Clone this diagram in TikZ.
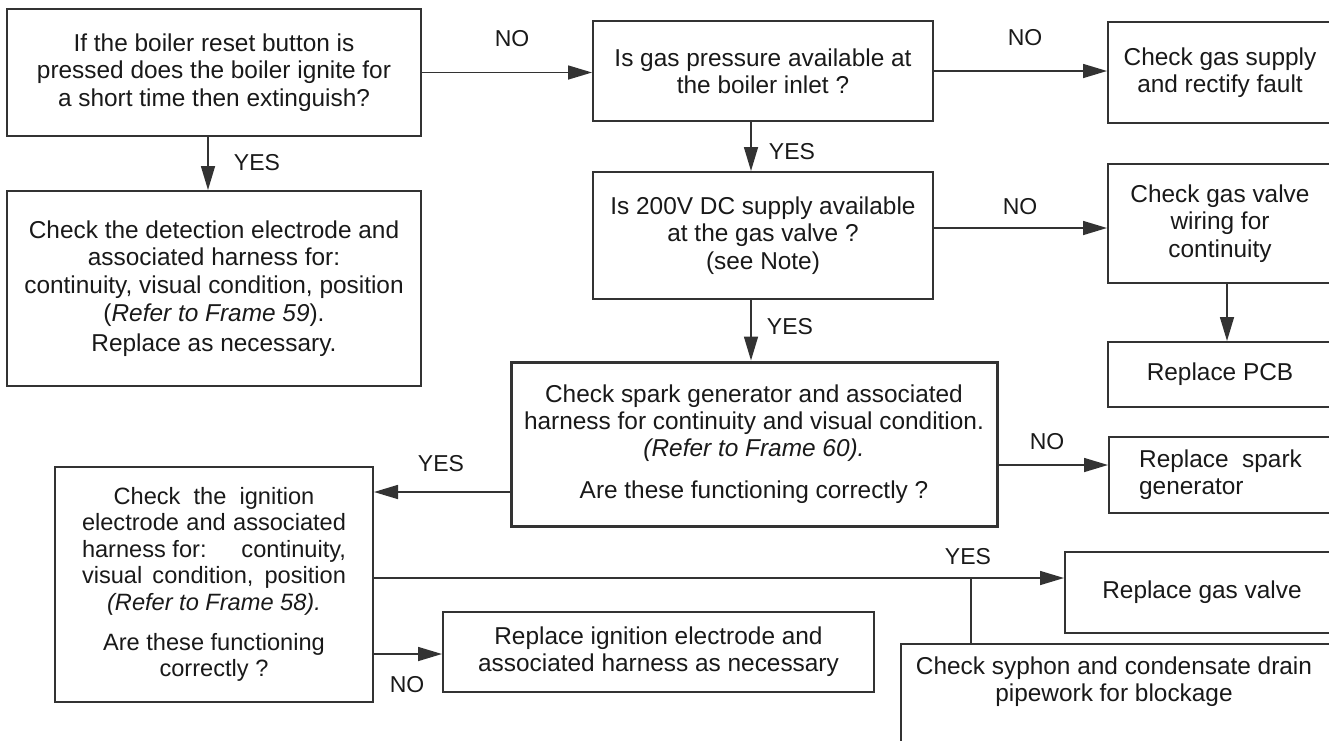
\documentclass[tikz,border=0pt]{standalone}
\usepackage{fontspec}
\setmainfont{Liberation Sans}
\usetikzlibrary{arrows.meta}

\begin{document}
\begin{tikzpicture}[x=0.5pt,y=-0.5pt,
    box/.style={draw=black!80, line width=1pt, align=center, inner sep=3pt,
      text=black!90, font=\fontsize{12.2}{13.6}\selectfont},
    wire/.style={draw=black!80, line width=0.8pt},
    arr/.style={wire, -{Triangle[length=12pt,width=7pt]}},
    lbl/.style={text=black!90, font=\fontsize{11.5}{13}\selectfont}]
  \useasboundingbox (0,0) rectangle (1329,740);
  \clip (0,0) rectangle (1329,740);

  % Left column
  \node[box, minimum width=207pt, minimum height=63.5pt] (reset) at (214,72.5)
    {If the boiler reset button is\\pressed does the boiler ignite for\\a short time then extinguish?};
  \node[box, minimum width=207pt, minimum height=97.5pt] (detect) at (214,288.5)
    {Check the detection electrode and\\associated harness for:\\[0.5pt]continuity, visual condition, position\\(\textit{Refer to Frame 59}).\\[1.5pt]Replace as necessary.};

  % Middle column
  \node[box, minimum width=170pt, minimum height=50pt] (gasp) at (763,71)
    {Is gas pressure available at\\the boiler inlet ?};
  \node[box, minimum width=170pt, minimum height=63.5pt] (dc) at (763,235.5)
    {Is 200V DC supply available\\at the gas valve ?\\(see Note)};
  \node[box, line width=1.5pt, minimum width=243pt, minimum height=82pt] (spark) at (754,444)
    {Check spark generator and associated\\harness for continuity and visual condition.\\\textit{(Refer to Frame 60).}\\[7pt]Are these functioning correctly ?};

  % Right column
  \node[box, minimum width=112pt, minimum height=50.5pt] (supply) at (1220,72.5)
    {Check gas supply\\and rectify fault};
  \node[box, minimum width=112pt, minimum height=59.5pt] (wiring) at (1220,223.5)
    {Check gas valve\\wiring for\\continuity};
  \node[box, minimum width=112pt, minimum height=32.5pt] (pcb) at (1220,374.5) {Replace PCB};
  \node[box, align=left, minimum width=111.5pt, minimum height=38pt] (newspark) at (1220.5,475)
    {Replace\ \ spark\\generator};

  % Bottom row
  \node[box, font=\fontsize{11.8}{13.2}\selectfont, minimum width=159pt, minimum height=117.5pt] (ignit) at (214,584.5)
    {Check\ \ the\ \ ignition\\\makebox[132pt][s]{electrode and associated}\\\makebox[132pt]{harness for:\hfill continuity,}\\\makebox[132pt][s]{visual condition, position}\\\textit{(Refer to Frame 58).}\\[7pt]Are these functioning\\correctly ?};
  \node[box, minimum width=215.5pt, minimum height=40pt] (newign) at (658.5,652)
    {Replace ignition electrode and\\associated harness as necessary};
  \node[box, minimum width=137pt, minimum height=40.5pt] (valve) at (1202,592.5) {Replace gas valve};
  \node[box, minimum width=217pt, minimum height=58pt] (syphon) at (1118,702) {};
  \node[box, draw=none] (syphontxt) at (1114,682)
    {Check syphon and condensate drain\\pipework for blockage};

  % Connectors
  \draw[arr] (reset.east) -- (reset.east -| gasp.west);
  \draw[arr] (gasp.east) -- (gasp.east -| supply.west);
  \draw[arr] ([xshift=-3pt]reset.south) -- ([xshift=-3pt]detect.north);
  \draw[arr] ([xshift=-6pt]gasp.south) -- ([xshift=-6pt]dc.north);
  \draw[arr] ([yshift=3.75pt]dc.east) -- ([yshift=3.75pt]dc.east -| wiring.west);
  \draw[arr] ([xshift=-6pt]dc.south) -- ([xshift=-6pt]dc.south |- spark.north);
  \draw[arr] ([xshift=3.5pt]wiring.south) -- ([xshift=3.5pt]wiring.south |- pcb.north);
  \draw[arr] ([yshift=-10.5pt]spark.east) -- ([yshift=-10.5pt]spark.east -| newspark.west);
  \draw[arr] ([yshift=-24pt]spark.west) -- ([yshift=-24pt]spark.west -| ignit.east);
  \draw[arr] ([yshift=3.25pt]ignit.east) -- ([yshift=3.25pt]ignit.east -| valve.west);
  \draw[arr] ([yshift=-34.75pt]ignit.east) -- ([yshift=-34.75pt]ignit.east -| newign.west);
  \coordinate (split) at (971,578);
  \draw[wire] (split) -- (split |- syphon.north);

  % Labels
  \node[lbl] (noA) at (512,39) {NO};
  \node[lbl] (yesA) at (257,163) {YES};
  \node[lbl] (noB) at (1025,38) {NO};
  \node[lbl] (yesB) at (792,152) {YES};
  \node[lbl] (noC) at (1020,207) {NO};
  \node[lbl] (yesC) at (790,327) {YES};
  \node[lbl] (noD) at (1047,442) {NO};
  \node[lbl] (yesD) at (441,464) {YES};
  \node[lbl] (noE) at (407,685) {NO};
  \node[lbl] (yesE) at (968,557) {YES};
\end{tikzpicture}
\end{document}
